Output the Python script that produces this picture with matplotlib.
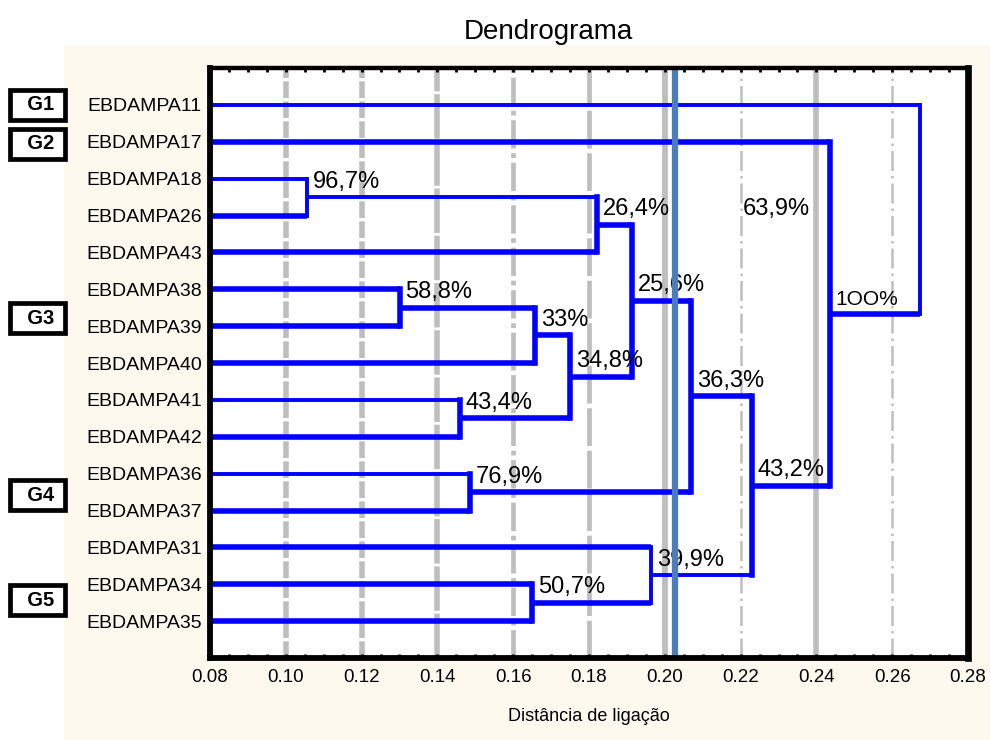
import matplotlib.pyplot as plt
import matplotlib.transforms as mtransforms
from matplotlib.patches import Rectangle

plt.rcParams['font.family'] = ['Liberation Sans', 'DejaVu Sans']

# folhas de cima para baixo
folhas = ['EBDAMPA11', 'EBDAMPA17', 'EBDAMPA18', 'EBDAMPA26', 'EBDAMPA43',
          'EBDAMPA38', 'EBDAMPA39', 'EBDAMPA40', 'EBDAMPA41', 'EBDAMPA42',
          'EBDAMPA36', 'EBDAMPA37', 'EBDAMPA31', 'EBDAMPA34', 'EBDAMPA35']

# fusoes: (grupo a, grupo b, distancia, rotulo)
fusoes = [
    ('EBDAMPA18', 'EBDAMPA26', 0.1056, '96,7%'),
    ('EBDAMPA38', 'EBDAMPA39', 0.1301, '58,8%'),
    ('EBDAMPA41', 'EBDAMPA42', 0.1460, '43,4%'),
    ('EBDAMPA36', 'EBDAMPA37', 0.1486, '76,9%'),
    ('EBDAMPA34', 'EBDAMPA35', 0.1650, '50,7%'),
    ('c1', 'EBDAMPA40', 0.1658, '33%'),
    ('c5', 'c2', 0.1750, '34,8%'),
    ('c0', 'EBDAMPA43', 0.1821, '26,4%'),
    ('c7', 'c6', 0.1913, '25,6%'),
    ('EBDAMPA31', 'c4', 0.1964, '39,9%'),
    ('c8', 'c3', 0.2069, '36,3%'),
    ('c10', 'c9', 0.2230, '43,2%'),
    ('EBDAMPA17', 'c11', 0.2436, '1OO%'),
    ('EBDAMPA11', 'c12', 0.2673, '63,9%'),
]

corte = 0.2027
grupos = ['G1', 'G2', 'G3', 'G4', 'G5']
grupos_y = [1.0, 2.06, 6.78, 11.58, 14.43]

# linhas mais finas
finas = ['EBDAMPA18', 'c0', 'EBDAMPA36', 'EBDAMPA41', 'c9', 'EBDAMPA11', 'c13']

azul = '#0000FF'
cinza = '#BEBEBE'

fig = plt.figure(figsize=(9.9, 7.4), dpi=100)
fig.patch.set_facecolor('white')
fig.patches.append(Rectangle((0.0646, 0), 0.9354, 0.939, transform=fig.transFigure,
                             facecolor='#FDF9EF', edgecolor='none', zorder=-10))
ax = fig.add_axes([0.2121, 0.1108, 0.7657, 0.7973])
ax.set_facecolor('white')

# grade vertical
grade_x = [0.10, 0.12, 0.14, 0.16, 0.18, 0.20, 0.22, 0.24, 0.26]
estilos = [((0, (3, 0.6)), 4.0), ((0, (3, 0.6)), 4.0), ((0, (8, 0.5)), 4.0),
           ((0, (6, 1, 1, 1)), 3.4), ((0, (8, 1)), 3.4), ('-', 4.2),
           ((0, (8, 2, 1, 2)), 1.8), ('-', 4.0), ((0, (8, 2, 1, 2)), 1.8)]
for gx, (ls, lw) in zip(grade_x, estilos):
    ax.axvline(gx, color=cinza, linestyle=ls, linewidth=lw, zorder=1)

# dendrograma
pos = {nome: i + 1 for i, nome in enumerate(folhas)}
alt = {nome: 0.08 for nome in folhas}
for k, (a, b, d, rot) in enumerate(fusoes):
    novo = 'c%d' % k
    ya, yb = pos[a], pos[b]
    for filho in (a, b):
        lw = 2.8 if filho in finas else 4.0
        ax.plot([alt[filho], d], [pos[filho], pos[filho]], color=azul, lw=lw,
                solid_capstyle='butt', zorder=3)
    lw = 2.8 if novo in finas else 4.0
    ax.plot([d, d], [ya, yb], color=azul, lw=lw, solid_capstyle='projecting', zorder=3)
    pos[novo] = (ya + yb) / 2
    alt[novo] = d
    if k == len(fusoes) - 1:
        # ultimo rotulo fica a esquerda da fusao
        ax.text(d - 0.0468, pos[novo], rot, fontsize=17, ha='left', va='center', zorder=4)
    else:
        fs = 15 if rot == '1OO%' else 17
        ax.text(d + 0.0015, pos[novo] - 0.12, rot, fontsize=fs, ha='left', va='bottom', zorder=4)

# linha de corte
ax.axvline(corte, color='#4A7EBB', lw=4.5, zorder=5)

ax.set_xlim(0.08, 0.28)
ax.set_ylim(16, 0)
ax.set_xticks([0.08 + 0.02 * i for i in range(11)])
ax.set_xticks([0.08 + 0.005 * i for i in range(41)], minor=True)
ax.set_xticklabels(['%.2f' % (0.08 + 0.02 * i) for i in range(11)], fontsize=13.5)
ax.set_yticks(range(1, len(folhas) + 1))
ax.set_yticklabels(folhas, fontsize=14)
ax.tick_params(axis='x', which='both', direction='in', top=True, length=3, width=2, pad=8)
ax.tick_params(axis='y', direction='in', length=3, width=3, pad=6)
for lado, lw in [('left', 4.2), ('bottom', 4.2), ('top', 3.2), ('right', 4.8)]:
    ax.spines[lado].set_linewidth(lw)
    ax.spines[lado].set_zorder(6)

ax.set_xlabel('Distância de ligação', fontsize=13, labelpad=16)
fig.text(548 / 990, 1 - 32 / 740, 'Dendrograma', fontsize=20, ha='center', va='center')

# caixas dos grupos
trans = mtransforms.blended_transform_factory(fig.transFigure, ax.transData)
for g, gy in zip(grupos, grupos_y):
    ax.text(0.038, gy, '  ' + g + ' ', transform=trans, fontsize=14.5, fontweight='bold',
            ha='center', va='center', clip_on=False,
            bbox=dict(boxstyle='square,pad=0.28', facecolor='white', edgecolor='black', linewidth=3.4))

fig.savefig('out.png', dpi=100)
